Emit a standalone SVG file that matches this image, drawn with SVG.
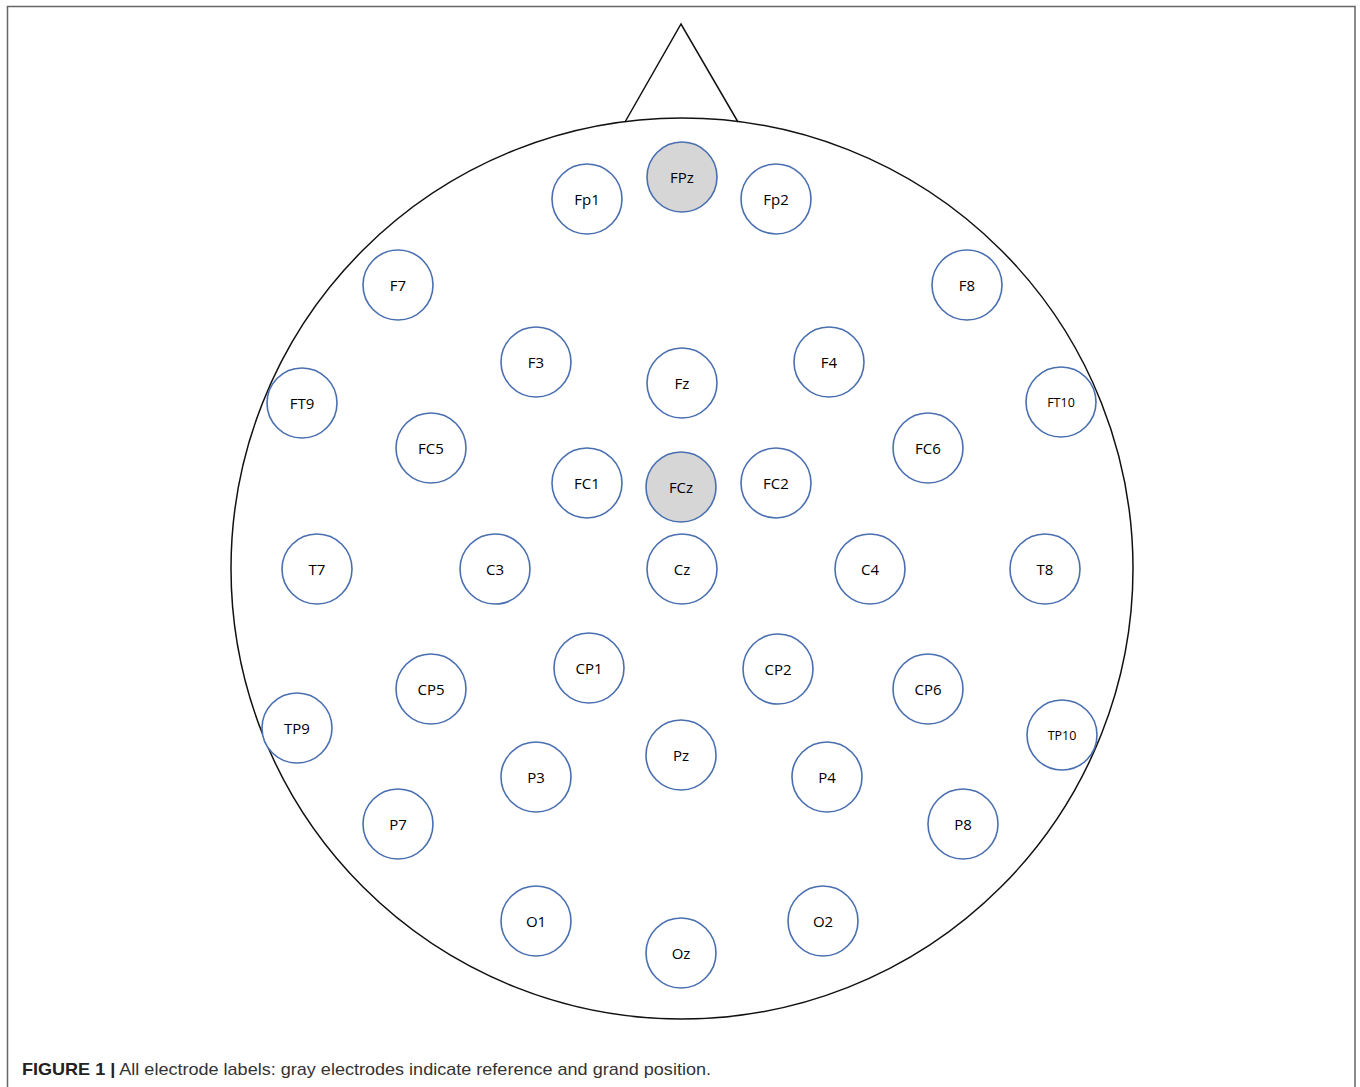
<svg xmlns="http://www.w3.org/2000/svg" width="1360" height="1087" viewBox="0 0 1360 1087">
<style>
.el{fill:#fff;stroke:#4a6fb0;stroke-width:1.6}
.ref{fill:#d6d6d6;stroke:#4a6fb0;stroke-width:1.6}
.lb{font-family:"Open Sans","Noto Sans","Liberation Sans",sans-serif;font-size:15px;fill:#000;text-anchor:middle;dominant-baseline:central}
.sm{font-size:12.5px}
.head{fill:none;stroke:#111;stroke-width:1.5}
</style>
<rect width="1360" height="1087" fill="#fff"/>
<g id="frame" fill="none" stroke="#666" stroke-width="1.5">
<polyline points="7.5,1087 7.5,6.5 1355,6.5 1355,1087"/>
</g>
<g id="head">
<ellipse class="head" cx="682" cy="568.5" rx="451" ry="450.5"/>
<polyline class="head" points="625,122 681,24 738,122"/>
</g>
<g id="electrodes">
<g id="FPz"><circle class="ref" cx="682" cy="177" r="35"/><text class="lb" x="682" y="177">FPz</text></g>
<g id="Fp1"><circle class="el" cx="587" cy="199" r="35"/><text class="lb" x="587" y="199">Fp1</text></g>
<g id="Fp2"><circle class="el" cx="776" cy="199" r="35"/><text class="lb" x="776" y="199">Fp2</text></g>
<g id="F7"><circle class="el" cx="398" cy="285" r="35"/><text class="lb" x="398" y="285">F7</text></g>
<g id="F8"><circle class="el" cx="967" cy="285" r="35"/><text class="lb" x="967" y="285">F8</text></g>
<g id="F3"><circle class="el" cx="536" cy="362" r="35"/><text class="lb" x="536" y="362">F3</text></g>
<g id="Fz"><circle class="el" cx="682" cy="383" r="35"/><text class="lb" x="682" y="383">Fz</text></g>
<g id="F4"><circle class="el" cx="829" cy="362" r="35"/><text class="lb" x="829" y="362">F4</text></g>
<g id="FT9"><circle class="el" cx="302" cy="403" r="35"/><text class="lb" x="302" y="403">FT9</text></g>
<g id="FT10"><circle class="el" cx="1061" cy="402" r="35"/><text class="lb sm" x="1061" y="402">FT10</text></g>
<g id="FC5"><circle class="el" cx="431" cy="448" r="35"/><text class="lb" x="431" y="448">FC5</text></g>
<g id="FC6"><circle class="el" cx="928" cy="448" r="35"/><text class="lb" x="928" y="448">FC6</text></g>
<g id="FC1"><circle class="el" cx="587" cy="483" r="35"/><text class="lb" x="587" y="483">FC1</text></g>
<g id="FCz"><circle class="ref" cx="681" cy="487" r="35"/><text class="lb" x="681" y="487">FCz</text></g>
<g id="FC2"><circle class="el" cx="776" cy="483" r="35"/><text class="lb" x="776" y="483">FC2</text></g>
<g id="T7"><circle class="el" cx="317" cy="569" r="35"/><text class="lb" x="317" y="569">T7</text></g>
<g id="C3"><circle class="el" cx="495" cy="569" r="35"/><text class="lb" x="495" y="569">C3</text></g>
<g id="Cz"><circle class="el" cx="682" cy="569" r="35"/><text class="lb" x="682" y="569">Cz</text></g>
<g id="C4"><circle class="el" cx="870" cy="569" r="35"/><text class="lb" x="870" y="569">C4</text></g>
<g id="T8"><circle class="el" cx="1045" cy="569" r="35"/><text class="lb" x="1045" y="569">T8</text></g>
<g id="CP1"><circle class="el" cx="589" cy="668" r="35"/><text class="lb" x="589" y="668">CP1</text></g>
<g id="CP2"><circle class="el" cx="778" cy="669" r="35"/><text class="lb" x="778" y="669">CP2</text></g>
<g id="CP5"><circle class="el" cx="431" cy="689" r="35"/><text class="lb" x="431" y="689">CP5</text></g>
<g id="CP6"><circle class="el" cx="928" cy="689" r="35"/><text class="lb" x="928" y="689">CP6</text></g>
<g id="TP9"><circle class="el" cx="297" cy="728" r="35"/><text class="lb" x="297" y="728">TP9</text></g>
<g id="TP10"><circle class="el" cx="1062" cy="735" r="35"/><text class="lb sm" x="1062" y="735">TP10</text></g>
<g id="Pz"><circle class="el" cx="681" cy="755" r="35"/><text class="lb" x="681" y="755">Pz</text></g>
<g id="P3"><circle class="el" cx="536" cy="777" r="35"/><text class="lb" x="536" y="777">P3</text></g>
<g id="P4"><circle class="el" cx="827" cy="777" r="35"/><text class="lb" x="827" y="777">P4</text></g>
<g id="P7"><circle class="el" cx="398" cy="824" r="35"/><text class="lb" x="398" y="824">P7</text></g>
<g id="P8"><circle class="el" cx="963" cy="824" r="35"/><text class="lb" x="963" y="824">P8</text></g>
<g id="O1"><circle class="el" cx="536" cy="921" r="35"/><text class="lb" x="536" y="921">O1</text></g>
<g id="O2"><circle class="el" cx="823" cy="921" r="35"/><text class="lb" x="823" y="921">O2</text></g>
<g id="Oz"><circle class="el" cx="681" cy="953" r="35"/><text class="lb" x="681" y="953">Oz</text></g>
</g>
<g id="connectors"></g>
<text x="22" y="1075" font-family="'Liberation Sans',Arial,sans-serif" font-size="17" fill="#333" textLength="689" lengthAdjust="spacingAndGlyphs"><tspan font-weight="bold" fill="#222">FIGURE 1 |</tspan> All electrode labels: gray electrodes indicate reference and grand position.</text>
</svg>
